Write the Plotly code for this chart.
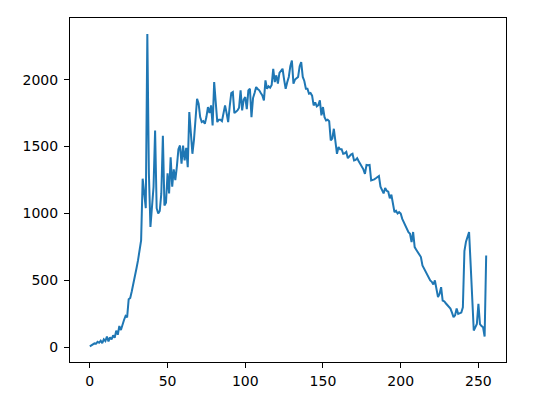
import plotly.graph_objects as go

bins = list(range(256))
counts_0_49 = [8, 15, 22, 30, 28, 42, 35, 50, 32, 60, 48, 82, 45, 75, 60, 90, 72, 125, 95, 160,
               130, 175, 205, 235, 225, 360, 370, 420, 470, 530, 590, 650, 720, 800, 1260, 1120, 1040, 2340, 1300, 900,
               1050, 1200, 1620, 1040, 1000, 1020, 1150, 1580, 1060, 1080]
counts_50_99 = [1300, 1150, 1420, 1200, 1330, 1250, 1350, 1480, 1508, 1372, 1508, 1396, 1490, 1346, 1757, 1600, 1446, 1550, 1700, 1857,
                1820, 1720, 1683, 1690, 1670, 1720, 1795, 1750, 1807, 1658, 1982, 1800, 1683, 1700, 1700, 1690, 1750, 1807, 1750, 1683,
                1800, 1900, 1907, 1750, 1760, 1770, 1790, 1920, 1770, 1850]
counts_100_149 = [1870, 1780, 1920, 1932, 1720, 1862, 1900, 1944, 1930, 1920, 1900, 1882, 1845, 1994, 1932, 1950, 1940, 1960, 2081, 1982,
                  2032, 1970, 2050, 2070, 2081, 2000, 1932, 1980, 2020, 2100, 2143, 1970, 2000, 2010, 2020, 2100, 2131, 2020, 1990, 1932,
                  1932, 1895, 1900, 1880, 1807, 1830, 1800, 1810, 1845, 1733]
counts_150_199 = [1795, 1720, 1695, 1700, 1690, 1546, 1560, 1633, 1530, 1446, 1496, 1480, 1480, 1446, 1450, 1460, 1413, 1430, 1440, 1446,
                  1396, 1400, 1413, 1390, 1370, 1346, 1330, 1296, 1363, 1360, 1363, 1247, 1250, 1255, 1263, 1270, 1280, 1200, 1180, 1150,
                  1190, 1170, 1163, 1113, 1140, 1060, 1010, 1020, 1000, 1010]
counts_200_255 = [1000, 960, 936, 910, 880, 860, 849, 787, 862, 749, 730, 712, 690, 675, 612, 590, 560, 538, 520, 500,
                  490, 470, 500, 420, 376, 400, 450, 350, 345, 330, 314, 300, 290, 260, 226, 240, 290, 250, 255, 260,
                  300, 720, 790, 825, 861, 620, 300, 127, 150, 175, 326, 175, 160, 150, 82, 687]
counts = counts_0_49 + counts_50_99 + counts_100_149 + counts_150_199 + counts_200_255

x_ticks = [0, 50, 100, 150, 200, 250]
y_ticks = [0, 500, 1000, 1500, 2000]

fig = go.Figure()
fig.add_trace(go.Scatter(x=bins, y=counts, mode="lines",
                         line=dict(color="#1f77b4", width=2), showlegend=False))

axis_common = dict(showgrid=False, zeroline=False, showline=True, linecolor="black", linewidth=1,
                   mirror=True, ticks="outside", ticklen=5, tickwidth=1, tickcolor="black",
                   tickfont=dict(family="DejaVu Sans", size=14, color="black"))
fig.update_xaxes(range=[-12.75, 267.75], tickvals=x_ticks, ticklabelstandoff=1, **axis_common)
fig.update_yaxes(range=[-108.75, 2460], tickvals=y_ticks, ticklabelstandoff=3, **axis_common)
fig.update_layout(width=518, height=392, margin=dict(l=62, r=20, t=10, b=38),
                  plot_bgcolor="white", paper_bgcolor="white")
fig.write_html("out.html")
